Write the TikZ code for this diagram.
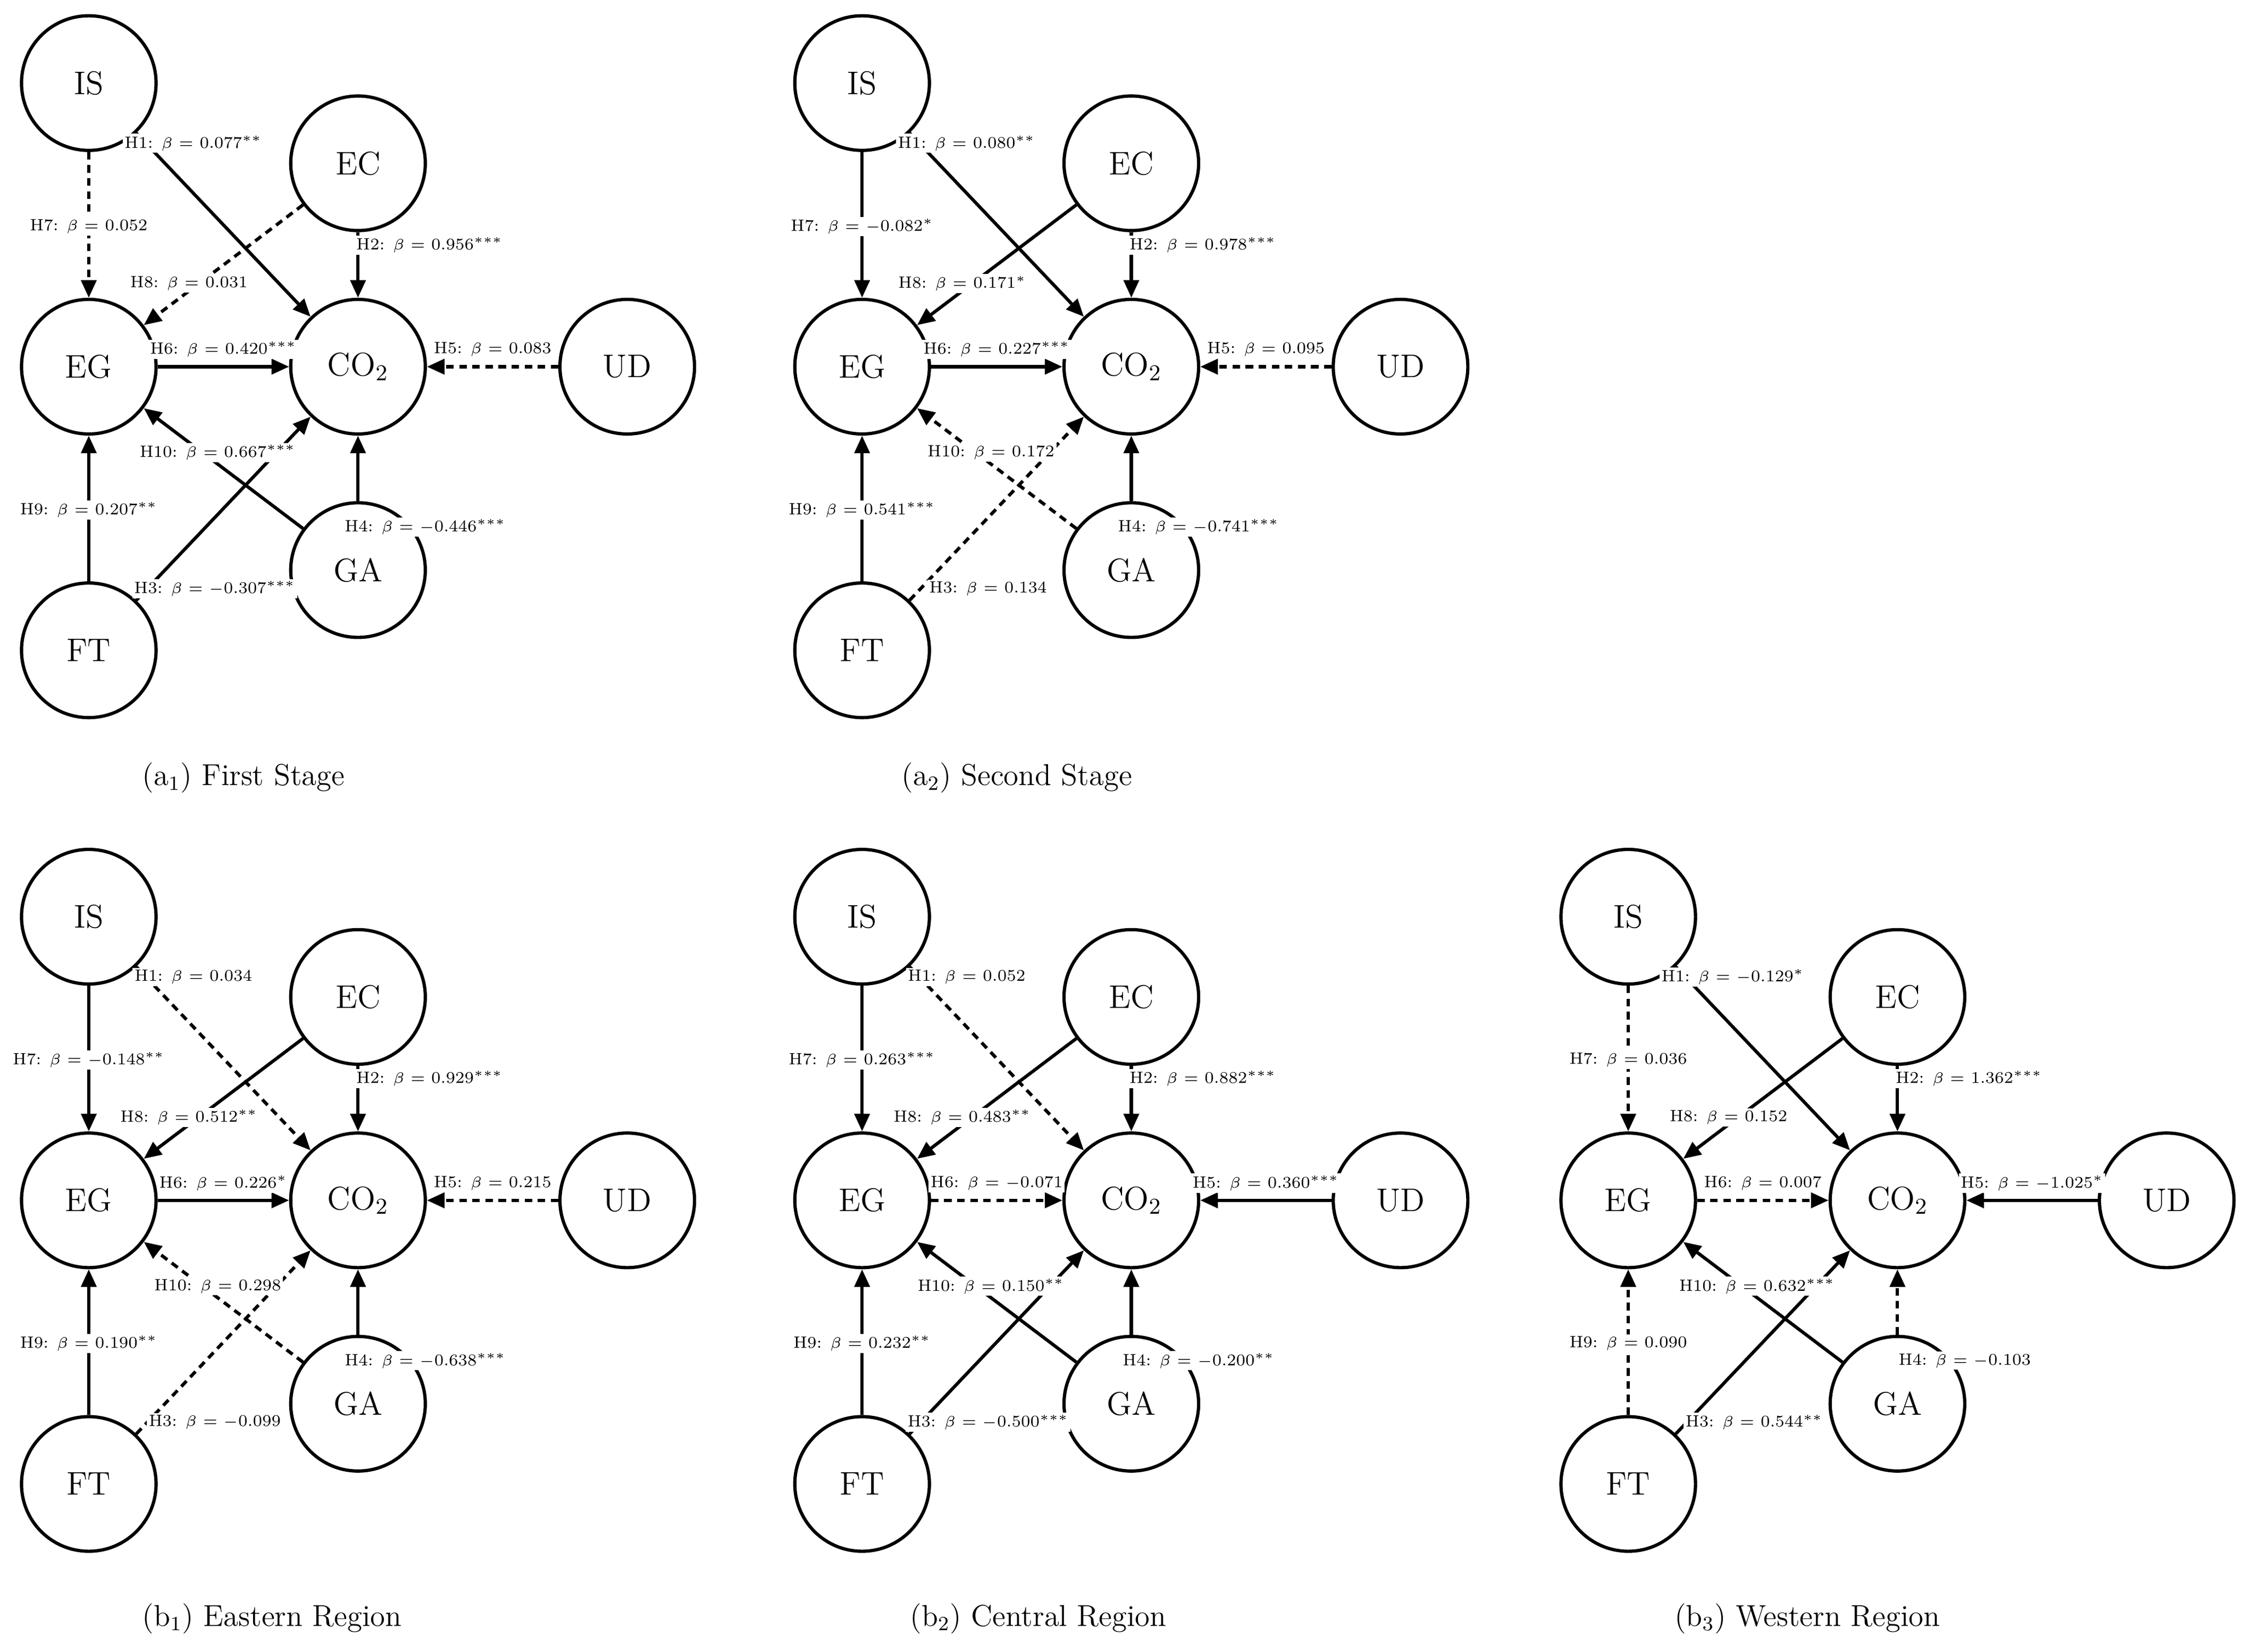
\documentclass[tikz,border=0pt]{standalone}
\usetikzlibrary{arrows.meta}
\tikzset{
  var/.style={circle,draw,line width=1.3pt,minimum size=1.88cm,inner sep=0pt,font=\fontsize{13}{13}\selectfont},
  lab/.style={fill=white,inner sep=0.8pt,font=\fontsize{6.5}{7}\selectfont},
  edge/.style={line width=1.3pt,-{Triangle[length=7pt,width=6pt]}},
  ns/.style={},
  ds/.style={dash pattern=on 3pt off 2.2pt},
  captxt/.style={font=\fontsize{12}{13}\selectfont}
}
\newcommand\mypanel[3]{%
\begin{scope}[shift={(#1,#2)},name prefix=#3-]
\node[var] (IS) at (62,58) {IS};
\node[var] (EC) at (250,114) {EC};
\node[var] (EG) at (62,256) {EG};
\node[var] (CO) at (250,256) {CO$_2$};
\node[var] (UD) at (438,256) {UD};
\node[var] (GA) at (250,398) {GA};
\node[var] (FT) at (62,454) {FT};
\draw[edge,\Sa] (IS) -- (CO);
\draw[edge,\Sb] (EC) -- (CO);
\draw[edge,\Sc] (FT) -- (CO);
\draw[edge,\Sd] (GA) -- (CO);
\draw[edge,\Se] (UD) -- (CO);
\draw[edge,\Sf] (EG) -- (CO);
\draw[edge,\Sg] (IS) -- (EG);
\draw[edge,\Sh] (EC) -- (EG);
\draw[edge,\Si] (FT) -- (EG);
\draw[edge,\Sj] (GA) -- (EG);
\node[lab] (la) at (135,100) {H1: $\beta$ = \La};
\node[lab] (lb) at (300,171) {H2: $\beta$ = \Lb};
\node[lab] (lc) at (150,411) {H3: $\beta$ = \Lc};
\node[lab] (ld) at (297,368) {H4: $\beta$ = \Ld};
\node[lab] (le) at (344,244) {H5: $\beta$ = \Le};
\node[lab] (lf) at (156,244) {H6: $\beta$ = \Lf};
\node[lab] (lg) at (62,158) {H7: $\beta$ = \Lg};
\node[lab] (lh) at (132,198) {H8: $\beta$ = \Lh};
\node[lab] (li) at (62,356) {H9: $\beta$ = \Li};
\node[lab] (lj) at (152,316) {H10: $\beta$ = \Lj};
\end{scope}}
\def\st{$^{*}$}\def\dst{$^{**}$}\def\tst{$^{***}$}
\begin{document}
\begin{tikzpicture}[x=0.02cm,y=-0.02cm]
\useasboundingbox (0,0) rectangle (1567,1153);
% a1
\def\Sa{ns}\def\Sb{ns}\def\Sc{ns}\def\Sd{ns}\def\Se{ds}\def\Sf{ns}\def\Sg{ds}\def\Sh{ds}\def\Si{ns}\def\Sj{ns}
\def\La{0.077\dst}\def\Lb{0.956\tst}\def\Lc{$-$0.307\tst}\def\Ld{$-$0.446\tst}\def\Le{0.083}\def\Lf{0.420\tst}\def\Lg{0.052}\def\Lh{0.031}\def\Li{0.207\dst}\def\Lj{0.667\tst}
\mypanel{0}{0}{a1}
% a2
\def\Sa{ns}\def\Sb{ns}\def\Sc{ds}\def\Sd{ns}\def\Se{ds}\def\Sf{ns}\def\Sg{ns}\def\Sh{ns}\def\Si{ns}\def\Sj{ds}
\def\La{0.080\dst}\def\Lb{0.978\tst}\def\Lc{0.134}\def\Ld{$-$0.741\tst}\def\Le{0.095}\def\Lf{0.227\tst}\def\Lg{$-$0.082\st}\def\Lh{0.171\st}\def\Li{0.541\tst}\def\Lj{0.172}
\mypanel{540}{0}{a2}
% b1
\def\Sa{ds}\def\Sb{ns}\def\Sc{ds}\def\Sd{ns}\def\Se{ds}\def\Sf{ns}\def\Sg{ns}\def\Sh{ns}\def\Si{ns}\def\Sj{ds}
\def\La{0.034}\def\Lb{0.929\tst}\def\Lc{$-$0.099}\def\Ld{$-$0.638\tst}\def\Le{0.215}\def\Lf{0.226\st}\def\Lg{$-$0.148\dst}\def\Lh{0.512\dst}\def\Li{0.190\dst}\def\Lj{0.298}
\mypanel{0}{582}{b1}
% b2
\def\Sa{ds}\def\Sb{ns}\def\Sc{ns}\def\Sd{ns}\def\Se{ns}\def\Sf{ds}\def\Sg{ns}\def\Sh{ns}\def\Si{ns}\def\Sj{ns}
\def\La{0.052}\def\Lb{0.882\tst}\def\Lc{$-$0.500\tst}\def\Ld{$-$0.200\dst}\def\Le{0.360\tst}\def\Lf{$-$0.071}\def\Lg{0.263\tst}\def\Lh{0.483\dst}\def\Li{0.232\dst}\def\Lj{0.150\dst}
\mypanel{540}{582}{b2}
% b3
\def\Sa{ns}\def\Sb{ns}\def\Sc{ns}\def\Sd{ds}\def\Se{ns}\def\Sf{ds}\def\Sg{ds}\def\Sh{ns}\def\Si{ds}\def\Sj{ns}
\def\La{$-$0.129\st}\def\Lb{1.362\tst}\def\Lc{0.544\dst}\def\Ld{$-$0.103}\def\Le{$-$1.025\st}\def\Lf{0.007}\def\Lg{0.036}\def\Lh{0.152}\def\Li{0.090}\def\Lj{0.632\tst}
\mypanel{1075}{582}{b3}
\node[captxt] (c1) at (170,543) {(a$_1$) First Stage};
\node[captxt] (c2) at (710,543) {(a$_2$) Second Stage};
\node[captxt] (c3) at (190,1130) {(b$_1$) Eastern Region};
\node[captxt] (c4) at (725,1130) {(b$_2$) Central Region};
\node[captxt] (c5) at (1262,1130) {(b$_3$) Western Region};
\end{tikzpicture}
\end{document}
